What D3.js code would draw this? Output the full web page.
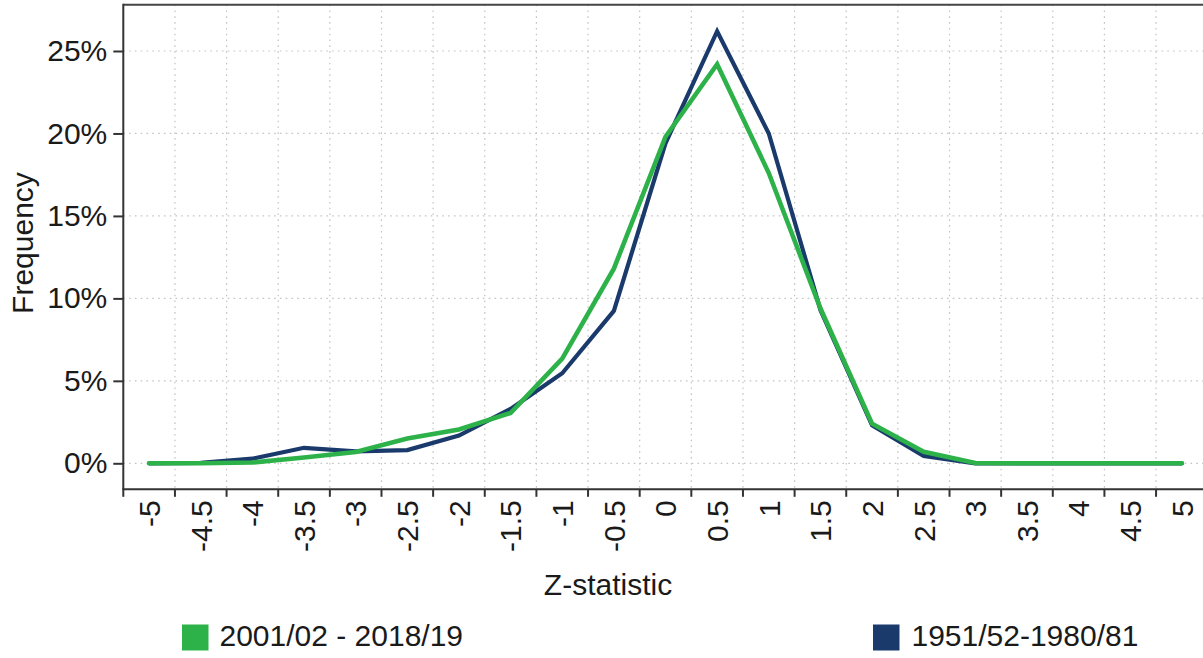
<!DOCTYPE html>
<html>
<head>
<meta charset="utf-8">
<script src="https://cdn.jsdelivr.net/npm/d3@7/dist/d3.min.js"></script>
<style>
  html, body { margin: 0; padding: 0; background: #fff; }
  svg { display: block; }
  text { font-family: "Liberation Sans", Arial, sans-serif; fill: #1a1a1a; }
</style>
</head>
<body>
<svg id="chart" width="1203" height="658"></svg>
<script>
// ---- data ----
const categories = ["-5","-4.5","-4","-3.5","-3","-2.5","-2","-1.5","-1","-0.5","0","0.5","1","1.5","2","2.5","3","3.5","4","4.5","5"];
const seriesNames = ["2001/02 - 2018/19", "1951/52-1980/81"];
const recentValues = [0, 0, 0.05, 0.35, 0.68, 1.5, 2.05, 3.05, 6.35, 11.8, 19.8, 24.2, 17.6, 9.4, 2.4, 0.7, 0.02, 0, 0, 0, 0];
const earlyValues  = [0, 0.03, 0.28, 0.94, 0.72, 0.8, 1.68, 3.3, 5.46, 9.24, 19.4, 26.2, 20.0, 9.3, 2.3, 0.45, 0, 0, 0, 0, 0];
const yTicks = [0, 5, 10, 15, 20, 25];
const colors = ["#2db24a", "#1a3a6b"];

// ---- layout ----
const svg = d3.select("#chart");
const left = 123.3, right = 1207.7;
const plotTop = 4.7, plotBottom = 489.3;

const x = d3.scaleBand().domain(categories).range([left, right]).padding(0);
const y = d3.scaleLinear().domain([0, 25]).range([463.3, 51]);
const cx = c => x(c) + x.bandwidth() / 2;

// gridlines
const grid = svg.append("g");
grid.selectAll("line.h").data(yTicks).enter().append("line")
  .attr("x1", left).attr("x2", 1203)
  .attr("y1", d => y(d)).attr("y2", d => y(d))
  .attr("stroke", "#c4c4c4").attr("stroke-width", 1.2).attr("stroke-dasharray", "1.6,4.2");
grid.selectAll("line.v").data(categories.slice(1)).enter().append("line")
  .attr("x1", d => x(d)).attr("x2", d => x(d))
  .attr("y1", plotTop).attr("y2", plotBottom)
  .attr("stroke", "#c4c4c4").attr("stroke-width", 1.2).attr("stroke-dasharray", "1.6,4.2");

// frame: top border
svg.append("line").attr("x1", left).attr("x2", 1203).attr("y1", plotTop).attr("y2", plotTop)
  .attr("stroke", "#444").attr("stroke-width", 2);

// y axis
const yAxis = svg.append("g").attr("transform", `translate(${left},0)`)
  .call(d3.axisLeft(y).tickValues(yTicks).tickFormat(d => d + "%").tickSize(10).tickPadding(6));
yAxis.select(".domain").remove();
yAxis.selectAll(".tick line").attr("stroke", "#333").attr("stroke-width", 2);
yAxis.selectAll(".tick text").attr("font-size", 30).attr("fill", "#1a1a1a")
  .attr("font-family", "Liberation Sans, Arial, sans-serif").attr("dy", "0.32em");
svg.append("line").attr("x1", left).attr("x2", left).attr("y1", plotTop - 1).attr("y2", plotBottom)
  .attr("stroke", "#333").attr("stroke-width", 2);

// x axis (ticks at band boundaries)
const xAxisG = svg.append("g").attr("transform", `translate(0,${plotBottom})`);
xAxisG.append("line").attr("x1", left - 1).attr("x2", 1203).attr("y1", 0).attr("y2", 0)
  .attr("stroke", "#333").attr("stroke-width", 2);
xAxisG.selectAll("line.tk").data(categories).enter().append("line")
  .attr("x1", d => x(d)).attr("x2", d => x(d)).attr("y1", 0).attr("y2", 7.5)
  .attr("stroke", "#333").attr("stroke-width", 2);
xAxisG.selectAll("text.lbl").data(categories).enter().append("text")
  .attr("transform", d => `translate(${cx(d)},11) rotate(-90)`)
  .attr("text-anchor", "end").attr("dy", "0.36em")
  .attr("font-size", 30).text(d => d);

// axis titles
svg.append("text").attr("x", 608).attr("y", 595).attr("text-anchor", "middle")
  .attr("font-size", 30).text("Z-statistic");
svg.append("text").attr("transform", "translate(33,243) rotate(-90)").attr("text-anchor", "middle")
  .attr("font-size", 30).text("Frequency");

// lines
const line = d3.line().x((d, i) => cx(categories[i])).y(d => y(d));
svg.append("path").datum(earlyValues).attr("d", line)
  .attr("fill", "none").attr("stroke", colors[1]).attr("stroke-width", 4.2)
  .attr("stroke-linejoin", "miter").attr("stroke-linecap", "round");
svg.append("path").datum(recentValues).attr("d", line)
  .attr("fill", "none").attr("stroke", colors[0]).attr("stroke-width", 4.6)
  .attr("stroke-linejoin", "miter").attr("stroke-linecap", "round");

// legend
const legendPos = [[182, 219.5], [873, 911.5]];
seriesNames.forEach((name, i) => {
  svg.append("rect").attr("x", legendPos[i][0]).attr("y", 624.5).attr("width", 26.5).attr("height", 26)
    .attr("fill", colors[i]);
  svg.append("text").attr("x", legendPos[i][1]).attr("y", 646).attr("font-size", 30).text(name);
});
</script>
</body>
</html>
